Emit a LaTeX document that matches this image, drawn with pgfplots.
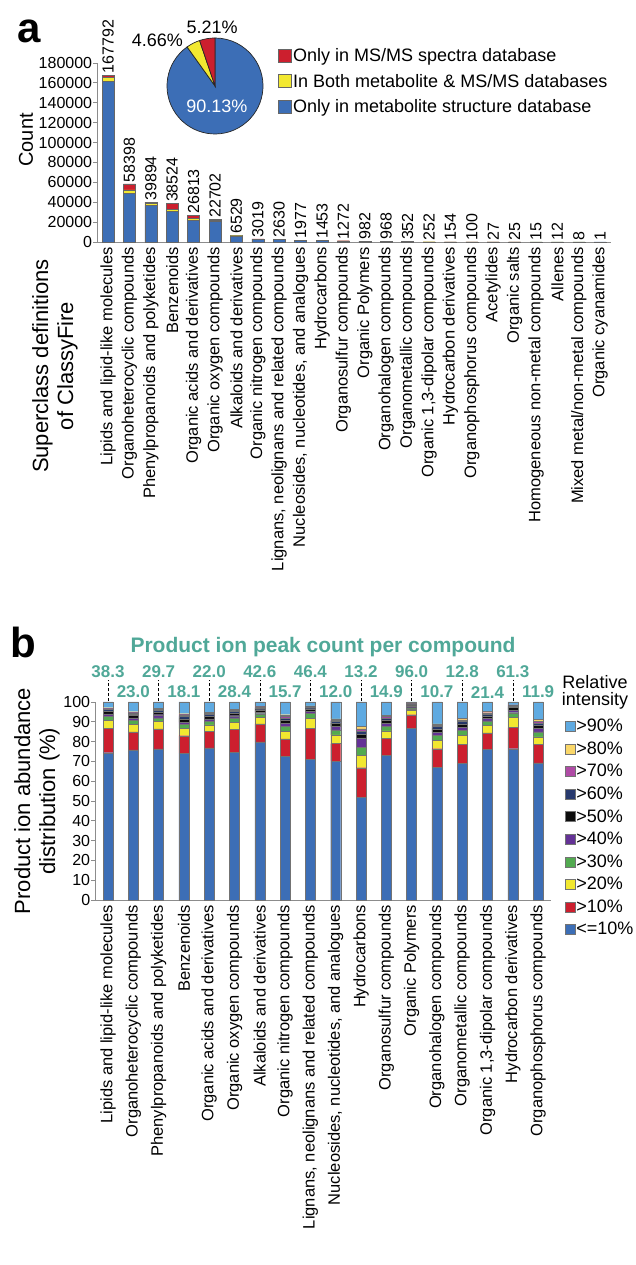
\documentclass[border=0pt]{standalone}
\usepackage{pgfplots}
\pgfplotsset{compat=1.18}
\usepackage{pgfplotstable}
\usepackage{fontspec}
\setmainfont{Liberation Sans}
\definecolor{cblue}{RGB}{60,110,182}
\definecolor{cred}{RGB}{204,31,46}
\definecolor{cyellow}{RGB}{242,232,48}
\definecolor{cgreen}{RGB}{82,170,80}
\definecolor{cpurple}{RGB}{100,50,150}
\definecolor{cblack}{RGB}{12,12,12}
\definecolor{cnavy}{RGB}{40,58,110}
\definecolor{cmagenta}{RGB}{175,75,165}
\definecolor{corange}{RGB}{250,215,105}
\definecolor{clightblue}{RGB}{95,170,225}
\definecolor{cteal}{RGB}{80,168,152}
\newcommand\fs[2]{\fontsize{#1}{#2}\selectfont}

\pgfplotstableread{
x blue yellow red total
0 161700 4000 2092 167792
1 49000 3300 6098 58398
2 36700 2300 894 39894
3 30500 2500 5524 38524
4 22000 1800 3013 26813
5 21000 1000 702 22702
6 6000 300 229 6529
7 2800 120 99 3019
8 2500 80 50 2630
9 1700 150 127 1977
10 1350 60 43 1453
11 1150 70 52 1272
12 950 20 12 982
13 880 50 38 968
14 300 30 22 352
15 230 12 10 252
16 140 8 6 154
17 90 5 5 100
18 25 1 1 27
19 23 1 1 25
20 14 1 0 15
21 11 1 0 12
22 7 1 0 8
23 1 0 0 1
}\dataA

\pgfplotstableread{
x c1 c2 c3 c4 c5 c6 c7 c8 c9 c10
0 74.4 12.2 4.1 2.0 1.3 1.4 0.9 0.3 0.5 2.9
1 75.8 9.1 3.7 2.1 1.3 1.2 0.8 0.6 0.5 4.9
2 76.3 10.1 3.9 1.7 1.6 1.3 0.9 0.5 0.5 3.2
3 74.2 8.8 3.6 2.0 1.2 1.7 1.2 0.9 0.5 5.9
4 76.8 8.3 3.4 1.8 1.2 1.4 0.8 0.7 0.5 5.1
5 74.7 11.6 3.5 2.2 1.1 1.3 0.9 0.5 0.5 3.7
6 79.8 9.2 3.4 1.7 0.8 1.2 0.8 0.6 0.3 2.2
7 72.4 9.0 3.9 2.5 1.5 1.7 1.0 0.9 0.7 6.4
8 71.2 15.6 5.1 2.5 1.0 1.2 0.9 0.3 0.3 1.9
9 70.0 9.0 4.4 2.5 1.7 1.7 1.0 0.5 0.7 8.5
10 52.0 14.8 6.2 4.1 4.8 1.7 1.7 1.1 1.2 12.4
11 73.2 8.5 3.7 2.4 1.5 1.7 1.0 0.7 0.7 6.6
12 86.8 6.8 2.2 0.8 0.5 0.9 0.6 0.4 0.2 0.8
13 67.0 9.4 4.1 2.6 1.6 1.7 1.2 0.7 0.7 11.0
14 69.0 9.5 4.6 2.5 1.7 1.7 1.2 0.8 0.7 8.3
15 76.1 8.3 3.9 2.2 1.2 1.3 0.9 0.7 0.7 4.7
16 76.4 10.7 5.1 2.4 1.3 1.4 0.7 0.5 0.1 1.4
17 69.2 9.3 3.9 2.5 1.7 1.7 1.2 0.8 0.9 8.8
}\dataB

\begin{document}
\begin{tikzpicture}
\path[use as bounding box] (0pt,0pt) rectangle (636pt,1265pt);

% ---------------- panel a ----------------
\node[font=\bfseries\fs{42}{42}, anchor=base] at (29pt,1222pt) {a};
\node[rotate=90, font=\fs{20}{22}] at (26pt,1125pt) {Count};
\node[rotate=90, align=center, font=\fs{22}{25}] at (55pt,899pt) {Superclass definitions\\of ClassyFire};

\begin{axis}[
  at={(97.3pt,1023pt)}, anchor=south west, scale only axis,
  width=513.6pt, height=179pt,
  xmin=-0.5, xmax=23.5, ymin=0, ymax=180000,
  scaled y ticks=false,
  ybar stacked, bar width=12pt,
  axis x line*=bottom, axis y line*=left,
  axis line style={black!45, line width=0.8pt},
  xtick={0,...,23},
  xticklabels={{Lipids and lipid-like molecules},{Organoheterocyclic compounds},{Phenylpropanoids and polyketides},{Benzenoids},{Organic acids and derivatives},{Organic oxygen compounds},{Alkaloids and derivatives},{Organic nitrogen compounds},{Lignans, neolignans and related compounds},{Nucleosides, nucleotides, and analogues},{Hydrocarbons},{Organosulfur compounds},{Organic Polymers},{Organohalogen compounds},{Organometallic compounds},{Organic 1,3-dipolar compounds},{Hydrocarbon derivatives},{Organophosphorus compounds},{Acetylides},{Organic salts},{Homogeneous non-metal compounds},{Allenes},{Mixed metal/non-metal compounds},{Organic cyanamides}},
  xticklabel style={rotate=90, anchor=east, font=\fontsize{16.5}{18}\selectfont, inner sep=1pt},
  x tick style={draw=none},
  ytick={0,20000,40000,60000,80000,100000,120000,140000,160000,180000},
  yticklabels={0,20000,40000,60000,80000,100000,120000,140000,160000,180000},
  yticklabel style={font=\fontsize{16}{18}\selectfont, inner sep=1pt},
  y tick style={black!45, line width=0.8pt},
  tick align=outside, major tick length=4pt,
  clip=false,
  reverse legend,
  legend image code/.code={\draw[#1] (0pt,-6pt) rectangle (13pt,7pt);},
  legend style={at={(0.352,1.089)}, anchor=north west, draw=none, fill=none,
    font=\fs{18}{20}, inner sep=0pt, row sep=8pt, nodes={inner sep=1.5pt}},
  legend cell align=left,
]
\addplot[fill=cblue, draw=black!60, line width=0.4pt] table[x=x,y=blue]{\dataA};
\addlegendentry{Only in metabolite structure database}
\addplot[fill=cyellow, draw=black!60, line width=0.4pt] table[x=x,y=yellow]{\dataA};
\addlegendentry{In Both metabolite \& MS/MS databases}
\addplot[fill=cred, draw=black!60, line width=0.4pt] table[x=x,y=red]{\dataA};
\addlegendentry{Only in MS/MS spectra database}
\end{axis}

\begin{axis}[
  at={(97.3pt,1023pt)}, anchor=south west, scale only axis,
  width=513.6pt, height=179pt,
  xmin=-0.5, xmax=23.5, ymin=0, ymax=180000,
  scaled y ticks=false,
  hide axis, clip=false, ybar, bar width=12pt,
  nodes near coords, point meta=explicit symbolic,
  every node near coord/.append style={rotate=90, anchor=west, font=\fs{16}{18}, inner sep=1.5pt},
]
\addplot[draw=none, fill=none] table[x=x, y=total, meta=total]{\dataA};
\end{axis}

% pie
\begin{axis}[
  at={(215pt,1179pt)}, anchor=center, scale only axis,
  width=96pt, height=96pt, xmin=-1, xmax=1, ymin=-1, ymax=1,
  hide axis, clip=false]
\fill[cblue, draw=black!85, line width=0.7pt] (axis cs:0,0) -- (axis cs:{cos(90+9.87*3.6)},{sin(90+9.87*3.6)}) arc[start angle={90+9.87*3.6}, delta angle={90.13*3.6}, radius=48pt] -- cycle;
\fill[cyellow, draw=black!85, line width=0.7pt] (axis cs:0,0) -- (axis cs:{cos(90+5.21*3.6)},{sin(90+5.21*3.6)}) arc[start angle={90+5.21*3.6}, delta angle={4.66*3.6}, radius=48pt] -- cycle;
\fill[cred, draw=black!85, line width=0.7pt] (axis cs:0,0) -- (axis cs:0,1) arc[start angle=90, delta angle={5.21*3.6}, radius=48pt] -- cycle;
\node[font=\fs{18}{20}] at (axis cs:-0.06,1.23) {5.21\%};
\node[font=\fs{18}{20}] at (axis cs:-1.2,0.96) {4.66\%};
\node[font=\fs{18}{20}, text=white] at (axis cs:0.04,-0.42) {90.13\%};
\end{axis}

% ---------------- panel b ----------------
\node[font=\bfseries\fs{42}{42}, anchor=base] at (23pt,607pt) {b};
\node[rotate=90, align=center, font=\fs{22}{25}] at (37pt,464pt) {Product ion abundance\\distribution (\%)};
\node[align=center, font=\fs{18}{17}] at (595pt,573pt) {Relative\\intensity};

\begin{axis}[
  at={(95.35pt,365pt)}, anchor=south west, scale only axis,
  width=455.4pt, height=198pt,
  xmin=-0.5, xmax=17.5, ymin=0, ymax=100,
  scaled y ticks=false,
  ybar stacked, bar width=10pt,
  axis x line*=bottom, axis y line*=left,
  axis line style={black!45, line width=0.8pt},
  xtick={0,...,17},
  xticklabels={{Lipids and lipid-like molecules},{Organoheterocyclic compounds},{Phenylpropanoids and polyketides},{Benzenoids},{Organic acids and derivatives},{Organic oxygen compounds},{Alkaloids and derivatives},{Organic nitrogen compounds},{Lignans, neolignans and related compounds},{Nucleosides, nucleotides, and analogues},{Hydrocarbons},{Organosulfur compounds},{Organic Polymers},{Organohalogen compounds},{Organometallic compounds},{Organic 1,3-dipolar compounds},{Hydrocarbon derivatives},{Organophosphorus compounds}},
  xticklabel style={rotate=90, anchor=east, font=\fontsize{16.5}{18}\selectfont, inner sep=1pt},
  x tick style={draw=none},
  ytick={0,10,20,30,40,50,60,70,80,90,100},
  yticklabels={0,10,20,30,40,50,60,70,80,90,100},
  yticklabel style={font=\fontsize{16}{18}\selectfont, inner sep=1pt},
  y tick style={black!45, line width=0.8pt},
  tick align=outside, major tick length=4pt,
  clip=false,
  reverse legend,
  legend image code/.code={\draw[#1] (0pt,-5pt) rectangle (10pt,5pt);},
  legend style={at={(1.031,0.919)}, anchor=north west, draw=none, fill=none,
    font=\fs{18}{20}, inner sep=0pt, row sep=6.5pt, nodes={inner sep=1pt}},
  legend cell align=left,
]
\addplot[fill=cblue, draw=black!55, line width=0.3pt] table[x=x,y=c1]{\dataB};
\addlegendentry{<=10\%}
\addplot[fill=cred, draw=black!55, line width=0.3pt] table[x=x,y=c2]{\dataB};
\addlegendentry{>10\%}
\addplot[fill=cyellow, draw=black!55, line width=0.3pt] table[x=x,y=c3]{\dataB};
\addlegendentry{>20\%}
\addplot[fill=cgreen, draw=black!55, line width=0.3pt] table[x=x,y=c4]{\dataB};
\addlegendentry{>30\%}
\addplot[fill=cpurple, draw=black!55, line width=0.3pt] table[x=x,y=c5]{\dataB};
\addlegendentry{>40\%}
\addplot[fill=cblack, draw=black!55, line width=0.3pt] table[x=x,y=c6]{\dataB};
\addlegendentry{>50\%}
\addplot[fill=cnavy, draw=black!55, line width=0.3pt] table[x=x,y=c7]{\dataB};
\addlegendentry{>60\%}
\addplot[fill=cmagenta, draw=black!55, line width=0.3pt] table[x=x,y=c8]{\dataB};
\addlegendentry{>70\%}
\addplot[fill=corange, draw=black!55, line width=0.3pt] table[x=x,y=c9]{\dataB};
\addlegendentry{>80\%}
\addplot[fill=clightblue, draw=black!55, line width=0.3pt] table[x=x,y=c10]{\dataB};
\addlegendentry{>90\%}
\end{axis}

\begin{axis}[
  at={(95.35pt,365pt)}, anchor=south west, scale only axis,
  width=455.4pt, height=198pt,
  xmin=-0.5, xmax=17.5, ymin=0, ymax=100,
  hide axis, clip=false]
\node[font=\bfseries\fs{21}{23}, text=cteal] at (axis cs:8.5,127.8) {Product ion peak count per compound};
\addplot[densely dashed, black, line width=0.6pt] coordinates {(0,100.3) (0,111.2)};
\addplot[densely dashed, black, line width=0.6pt] coordinates {(2,100.3) (2,111.2)};
\addplot[densely dashed, black, line width=0.6pt] coordinates {(4,100.3) (4,111.2)};
\addplot[densely dashed, black, line width=0.6pt] coordinates {(6,100.3) (6,111.2)};
\addplot[densely dashed, black, line width=0.6pt] coordinates {(8,100.3) (8,111.2)};
\addplot[densely dashed, black, line width=0.6pt] coordinates {(10,100.3) (10,111.2)};
\addplot[densely dashed, black, line width=0.6pt] coordinates {(12,100.3) (12,111.2)};
\addplot[densely dashed, black, line width=0.6pt] coordinates {(14,100.3) (14,111.2)};
\addplot[densely dashed, black, line width=0.6pt] coordinates {(16,100.3) (16,111.2)};
\addplot[draw=none, nodes near coords, point meta=explicit symbolic,
  every node near coord/.style={anchor=center, font=\bfseries\fs{17}{19}, text=cteal}]
  coordinates {(0,115.2)[38.3] (2,115.2)[29.7] (4,115.2)[22.0] (6,115.2)[42.6] (8,115.2)[46.4] (10,115.2)[13.2] (12,115.2)[96.0] (14,115.2)[12.8] (16,115.2)[61.3]};
\addplot[draw=none, nodes near coords, point meta=explicit symbolic,
  every node near coord/.style={anchor=center, font=\bfseries\fs{17}{19}, text=cteal}]
  coordinates {(1,105)[23.0] (3,105)[18.1] (5,105)[28.4] (7,105)[15.7] (9,105)[12.0] (11,105)[14.9] (13,105)[10.7] (15,105)[21.4] (17,105)[11.9]};
\end{axis}
\end{tikzpicture}
\end{document}
